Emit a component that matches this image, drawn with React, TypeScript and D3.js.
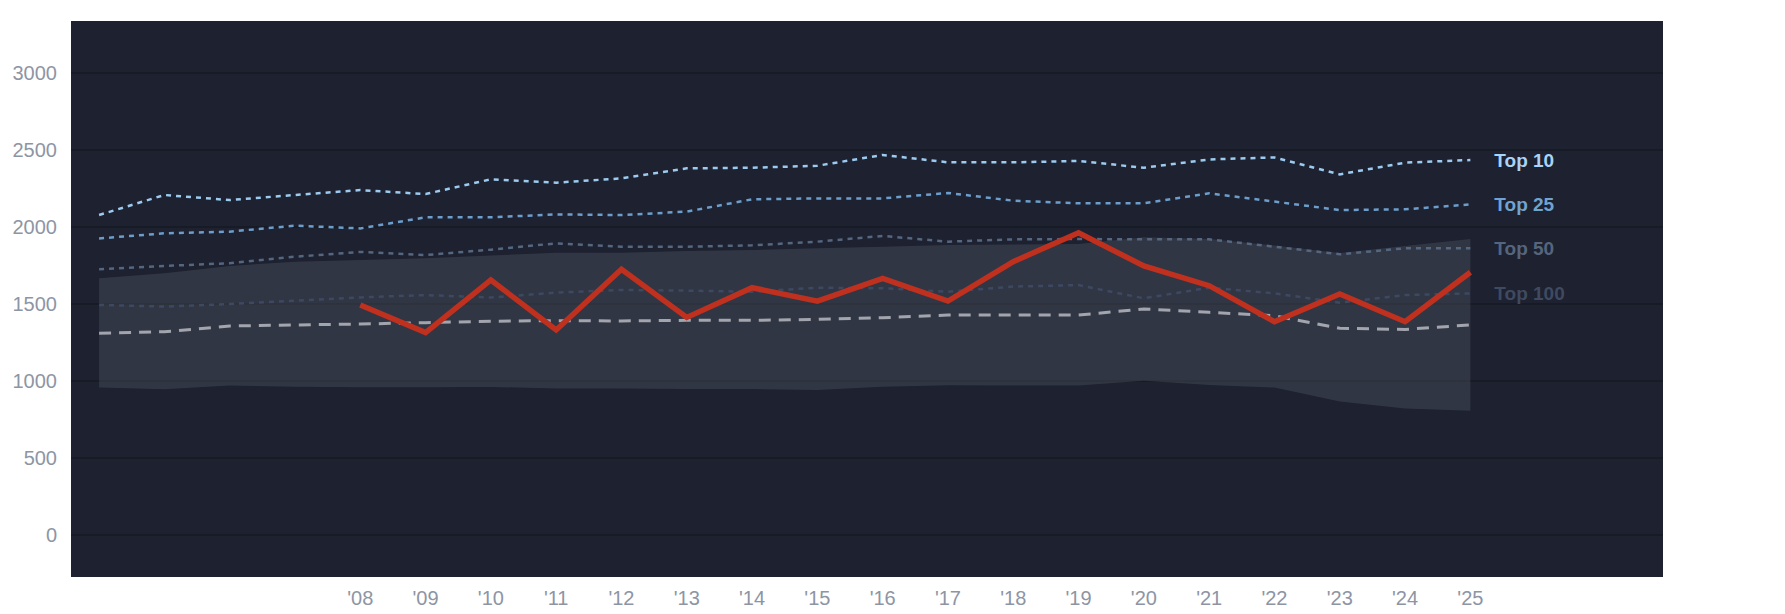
import * as d3 from "d3";
import React from "react";

const years = [
  2004, 2005, 2006, 2007, 2008, 2009, 2010, 2011, 2012, 2013, 2014,
  2015, 2016, 2017, 2018, 2019, 2020, 2021, 2022, 2023, 2024, 2025,
];
const top10 = [
  2078, 2208, 2175, 2208, 2240, 2214, 2310, 2288, 2316, 2381, 2385,
  2398, 2468, 2420, 2420, 2429, 2385, 2439, 2452, 2342, 2418, 2435,
];
const top25 = [
  1926, 1959, 1970, 2009, 1991, 2063, 2063, 2082, 2078, 2100, 2180,
  2186, 2186, 2221, 2171, 2154, 2154, 2219, 2165, 2110, 2115, 2147,
];
const top50 = [
  1725, 1747, 1765, 1807, 1838, 1818, 1853, 1894, 1872, 1872, 1881,
  1905, 1942, 1905, 1920, 1922, 1920, 1920, 1872, 1823, 1862, 1862,
];
const top100 = [
  1494, 1483, 1500, 1521, 1543, 1558, 1542, 1574, 1591, 1587, 1580,
  1606, 1602, 1580, 1613, 1623, 1537, 1606, 1569, 1509, 1558, 1569,
];
const median = [
  1310, 1320, 1357, 1364, 1370, 1379, 1388, 1392, 1390, 1394, 1394,
  1400, 1411, 1428, 1428, 1428, 1468, 1446, 1424, 1342, 1335, 1364,
];
const bandHigh = [
  1667, 1699, 1747, 1775, 1786, 1797, 1815, 1833, 1833, 1844, 1851,
  1862, 1872, 1883, 1887, 1890, 1933, 1922, 1880, 1832, 1877, 1922,
];
const bandLow = [
  957, 946, 970, 963, 959, 959, 961, 952, 952, 948, 948,
  942, 963, 972, 970, 970, 1002, 974, 957, 866, 822, 807,
];
const teamYears = [
  2008, 2009, 2010, 2011, 2012, 2013, 2014, 2015, 2016,
  2017, 2018, 2019, 2020, 2021, 2022, 2023, 2024, 2025,
];
const teamValues = [
  1494, 1314, 1656, 1331, 1725, 1413, 1606, 1519, 1667,
  1519, 1775, 1963, 1747, 1619, 1385, 1565, 1385, 1706,
];
const yTicks = [0, 500, 1000, 1500, 2000, 2500, 3000];
const xTickLabels = [
  "'08", "'09", "'10", "'11", "'12", "'13", "'14", "'15", "'16",
  "'17", "'18", "'19", "'20", "'21", "'22", "'23", "'24", "'25",
];

const tiers = [
  { name: "Top 10", values: top10, line: "#9ccbef", label: "#a9d3f7" },
  { name: "Top 25", values: top25, line: "#6d9ecb", label: "#71a3d0" },
  { name: "Top 50", values: top50, line: "#55667f", label: "#56657e" },
  { name: "Top 100", values: top100, line: "#3d4861", label: "#3f4a60" },
];

const FONT = "'Liberation Sans', Arial, Helvetica, sans-serif";

const App: React.FC = () => {
  React.useEffect(() => {
    document.body.style.margin = "0";
  }, []);

  const width = 1785;
  const height = 614;
  const panel = { left: 71, right: 1663, top: 21, bottom: 577 };

  const x = d3.scaleLinear().domain([2003.57, 2027.95]).range([panel.left, panel.right]);
  const y = d3.scaleLinear().domain([-273, 3338]).range([panel.bottom, panel.top]);

  const line = d3
    .line<number>()
    .x((_, i) => x(years[i]))
    .y((d) => y(d));

  const area = d3
    .area<number>()
    .x((_, i) => x(years[i]))
    .y0((_, i) => y(bandLow[i]))
    .y1((d) => y(d));

  const teamLine = d3
    .line<number>()
    .x((_, i) => x(teamYears[i]))
    .y((d) => y(d));

  const last = years.length - 1;

  return (
    <svg width={width} height={height} style={{ display: "block" }}>
      <rect
        x={panel.left}
        y={panel.top}
        width={panel.right - panel.left}
        height={panel.bottom - panel.top}
        fill="#1d2130"
      />
      {yTicks.map((t) => (
        <g key={t}>
          <line
            x1={panel.left}
            x2={panel.right}
            y1={y(t)}
            y2={y(t)}
            stroke="#171b26"
            strokeWidth={2}
          />
          <text
            x={57}
            y={y(t)}
            dy="0.36em"
            textAnchor="end"
            fontFamily={FONT}
            fontSize={20}
            fill="#8d95a5"
          >
            {t}
          </text>
        </g>
      ))}
      {teamYears.map((yr, i) => (
        <text
          key={yr}
          x={x(yr)}
          y={598}
          dy="0.36em"
          textAnchor="middle"
          fontFamily={FONT}
          fontSize={20}
          fill="#8d95a5"
        >
          {xTickLabels[i]}
        </text>
      ))}

      <path d={area(bandHigh) || ""} fill="rgba(110,115,128,0.26)" />

      {tiers
        .slice()
        .reverse()
        .map((t) => (
          <path
            key={t.name}
            d={line(t.values) || ""}
            fill="none"
            stroke={t.line}
            strokeWidth={2.5}
            strokeDasharray="5,5"
          />
        ))}
      <path
        d={line(median) || ""}
        fill="none"
        stroke="#a2a5ad"
        strokeWidth={3}
        strokeDasharray="12,8"
      />
      <path
        d={teamLine(teamValues) || ""}
        fill="none"
        stroke="#c0301e"
        strokeWidth={5.5}
      />

      {tiers.map((t) => (
        <text
          key={t.name}
          x={x(years[last]) + 24}
          y={y(t.values[last])}
          dy="0.36em"
          fontFamily={FONT}
          fontSize={19}
          fontWeight="bold"
          fill={t.label}
        >
          {t.name}
        </text>
      ))}
    </svg>
  );
};

export default App;
